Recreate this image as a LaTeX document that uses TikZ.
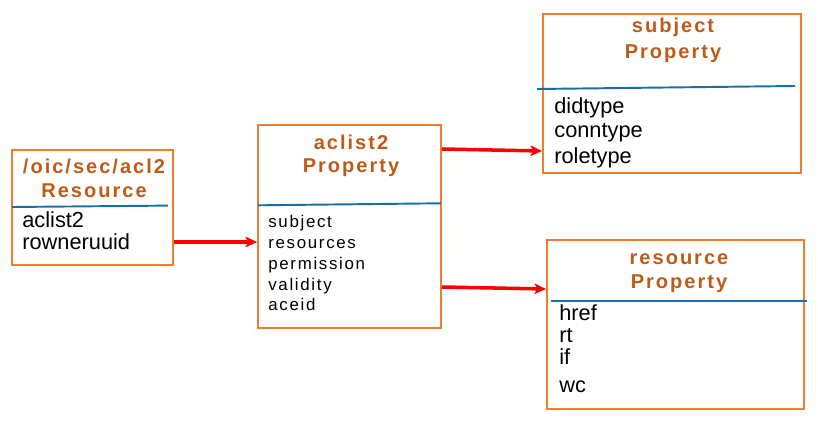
\documentclass[tikz,border=0pt]{standalone}
\usepackage{fontspec}
\setmainfont{Liberation Sans}
\newfontfamily\titlefont{Liberation Sans}[LetterSpace=10]
\newfontfamily\spacedfont{Liberation Sans}[LetterSpace=10]
\usetikzlibrary{arrows.meta}

\definecolor{boxorange}{HTML}{ED7D31}
\definecolor{titlebrown}{HTML}{C05A17}
\definecolor{lineblue}{HTML}{1B6EA0}

\begin{document}
\begin{tikzpicture}[x=0.02cm, y=-0.02cm,
    box/.style={draw=boxorange, line width=1.1pt, inner sep=0pt},
    title/.style={anchor=base, inner sep=0pt, text=titlebrown, font=\titlefont\bfseries\fontsize{11.4}{13}\selectfont},
    item/.style={anchor=base west, inner sep=0pt, font=\fontsize{12.4}{14}\selectfont},
    smallitem/.style={anchor=base west, inner sep=0pt, font=\spacedfont\fontsize{9.6}{11}\selectfont},
    divider/.style={draw=lineblue, line width=1.1pt},
    link/.style={draw=red, line width=2pt, -{Stealth[length=6.6pt, width=6pt, inset=1.6pt]}}]

    \useasboundingbox (0,0) rectangle (818,436);

    % Define the four boxes
    \node[box, minimum width=3.22cm, minimum height=2.30cm] (res) at (92.5,207.5) {};
    \node[box, minimum width=3.66cm, minimum height=4.06cm] (aclist) at (349.5,226.5) {};
    \node[box, minimum width=5.16cm, minimum height=3.18cm] (subj) at (672,93.5) {};
    \node[box, minimum width=5.14cm, minimum height=3.38cm] (rsrc) at (675.5,324.5) {};

    % /oic/sec/acl2 Resource
    \node[title] (resT1) at (94,173) {/oic/sec/acl2};
    \node[title] (resT2) at (94,197) {Resource};
    \draw[divider] (12,207) -- (168,205.6);
    \node[item] (resA) at (22,227) {aclist2};
    \node[item] (resB) at (22,249) {rowneruuid};

    % aclist2 Property
    \node[title] (aclT1) at (351,149) {aclist2};
    \node[title] (aclT2) at (351,172) {Property};
    \draw[divider] (258,205.3) -- (441,203.3);
    \node[smallitem] (aclA) at (268,227) {subject};
    \node[smallitem] (aclB) at (268,248) {resources};
    \node[smallitem] (aclC) at (268,269) {permission};
    \node[smallitem] (aclD) at (268,290) {validity};
    \node[smallitem] (aclE) at (268,310) {aceid};

    % subject Property
    \node[title] (subT1) at (673,32) {subject};
    \node[title] (subT2) at (673,58) {Property};
    \draw[divider] (537,89) -- (795,86);
    \node[item] (subA) at (554,113) {didtype};
    \node[item] (subB) at (554,137) {conntype};
    \node[item] (subC) at (554,163) {roletype};

    % resource Property
    \node[title] (rscT1) at (679,264) {resource};
    \node[title] (rscT2) at (679,288) {Property};
    \draw[divider] (551,301) -- (807,301);
    \node[item] (rscA) at (559,320) {href};
    \node[item] (rscB) at (559,342) {rt};
    \node[item] (rscC) at (559,364) {if};
    \node[item] (rscD) at (559,392) {wc};

    % Draw the links between the boxes
    \draw[link] (res.east |- 0,242) -- (aclist.west |- 0,242);
    \draw[link] (aclist.east |- 0,149) -- (subj.west |- 0,151);
    \draw[link] (aclist.east |- 0,287) -- (rsrc.west |- 0,289);
\end{tikzpicture}
\end{document}
